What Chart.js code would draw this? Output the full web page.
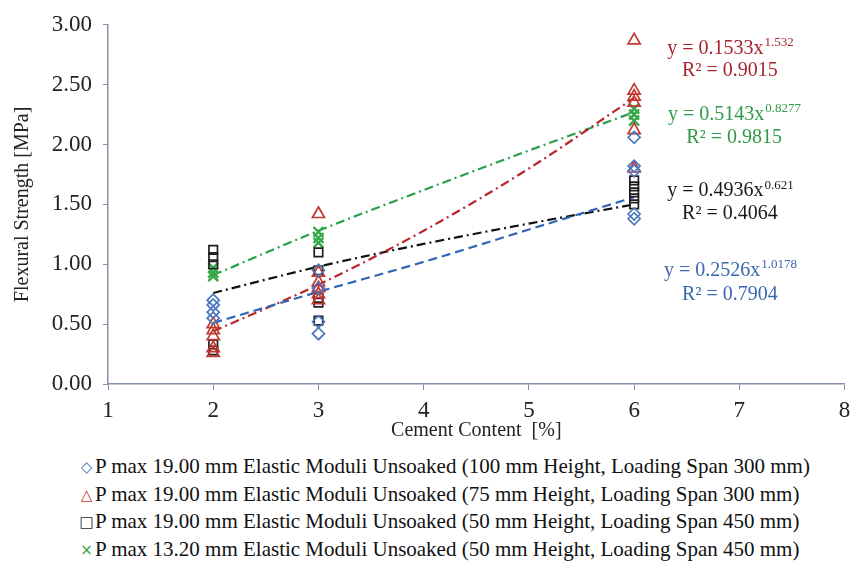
<!DOCTYPE html>
<html>
<head>
<meta charset="utf-8">
<script src="https://cdn.jsdelivr.net/npm/chart.js@4.4.1/dist/chart.umd.min.js"></script>
<style>
  body { margin: 0; background: #fff; font-family: "Liberation Serif", serif; }
  #wrap { position: relative; width: 854px; height: 445px; }
  #legend { margin: 8px 0 0 78px; font-size: 21px; color: #111; white-space: nowrap; }
  #legend div { height: 27.7px; line-height: 27.7px; }
  #legend .m { display: inline-block; width: 17px; text-align: center; font-family: "DejaVu Sans", sans-serif; font-size: 15px; line-height: 20px; vertical-align: 1px; }
</style>
</head>
<body>
<div id="wrap"><canvas id="chart" width="854" height="445"></canvas></div>
<div id="legend"></div>
<script>
// Series labels
const seriesLabels = [
  'P max 19.00 mm Elastic Moduli Unsoaked (100 mm Height, Loading Span 300 mm)',
  'P max 19.00 mm Elastic Moduli Unsoaked (75 mm Height, Loading Span 300 mm)',
  'P max 19.00 mm Elastic Moduli Unsoaked (50 mm Height, Loading Span 450 mm)',
  'P max 13.20 mm Elastic Moduli Unsoaked (50 mm Height, Loading Span 450 mm)'
];

// Measured points (cement content %, flexural strength MPa)
const h100X = [2, 2, 2, 2, 3, 3, 3, 3, 6, 6, 6, 6, 6];
const h100Y = [0.70, 0.66, 0.60, 0.55, 0.95, 0.80, 0.52, 0.42, 2.06, 1.82, 1.78, 1.42, 1.38];

const h75X = [2, 2, 2, 2, 2, 3, 3, 3, 3, 3, 3, 6, 6, 6, 6, 6, 6];
const h75Y = [0.50, 0.45, 0.40, 0.30, 0.26, 1.42, 0.93, 0.85, 0.80, 0.75, 0.70, 2.87, 2.45, 2.40, 2.35, 2.12, 1.80];

const h50X = [2, 2, 2, 2, 2, 3, 3, 3, 3, 3, 6, 6, 6, 6, 6];
const h50Y = [1.12, 1.06, 1.00, 0.33, 0.28, 1.10, 0.95, 0.72, 0.68, 0.53, 1.70, 1.65, 1.60, 1.55, 1.50];

const p13X = [2, 2, 2, 3, 3, 3, 6, 6, 6];
const p13Y = [0.97, 0.93, 0.90, 1.27, 1.22, 1.18, 2.30, 2.25, 2.20];

// Power trend lines
const trendX = [2, 3, 4, 5, 6];
const trendH100 = [0.51, 0.77, 1.02, 1.29, 1.56];
const trendH75 = [0.44, 0.83, 1.28, 1.80, 2.39];
const trendH50 = [0.76, 0.98, 1.17, 1.34, 1.50];
const trendP13 = [0.91, 1.28, 1.62, 1.95, 2.27];

// Trend equations (top to bottom on the chart: red, green, black, blue)
const eqCoef = ['0.1533', '0.5143', '0.4936', '0.2526'];
const eqExp = ['1.532', '0.8277', '0.621', '1.0178'];
const eqR2 = ['0.9015', '0.9815', '0.4064', '0.7904'];

const yTicks = [0, 0.5, 1, 1.5, 2, 2.5, 3];

const pts = (xs, ys) => xs.map((x, i) => ({ x: x, y: ys[i] }));

const markerColors = ['#4a78bf', '#c0392f', '#1e1e1e', '#35a846'];
const lineColors = ['#2f67b2', '#b8262c', '#111111', '#28a04a'];
const eqColors = ['#a8242c', '#2f9a45', '#1a1a1a', '#3a68ad'];
// label anchors in data units: x centre, y of equation line, y of R² line
const eqPos = [[6.91, 2.80, 2.62], [6.95, 2.25, 2.06], [6.91, 1.61, 1.42], [6.91, 0.95, 0.745]];

const eqPlugin = {
  id: 'equations',
  afterDatasetsDraw(chart) {
    const { ctx, scales: { x, y } } = chart;
    ctx.save();
    ctx.textBaseline = 'middle';
    eqCoef.forEach((coef, k) => {
      const cx = x.getPixelForValue(eqPos[k][0]);
      const y1 = y.getPixelForValue(eqPos[k][1]);
      const y2 = y.getPixelForValue(eqPos[k][2]);
      ctx.fillStyle = eqColors[k];
      const main = 'y = ' + coef + 'x';
      ctx.font = '20px "Liberation Serif"';
      const w1 = ctx.measureText(main).width;
      ctx.font = '13px "Liberation Serif"';
      const w2 = ctx.measureText(eqExp[k]).width;
      const left = cx - (w1 + w2) / 2;
      ctx.textAlign = 'left';
      ctx.font = '20px "Liberation Serif"';
      ctx.fillText(main, left, y1);
      ctx.font = '13px "Liberation Serif"';
      ctx.fillText(eqExp[k], left + w1 + 1, y1 - 6);
      ctx.font = '20px "Liberation Serif"';
      ctx.textAlign = 'center';
      ctx.fillText('R² = ' + eqR2[k], cx, y2);
    });
    ctx.restore();
  }
};

const pointStyles = ['rectRot', 'triangle', 'rect', 'crossRot'];
const pointRadii = [6, 7, 6, 7];
const pointData = [pts(h100X, h100Y), pts(h75X, h75Y), pts(h50X, h50Y), pts(p13X, p13Y)];
const trendData = [pts(trendX, trendH100), pts(trendX, trendH75), pts(trendX, trendH50), pts(trendX, trendP13)];
const dashes = [[9, 5], [9, 4, 2, 4], [9, 4, 2, 4], [9, 4, 2, 4]];

const datasets = [];
trendData.forEach((d, i) => {
  datasets.push({
    type: 'line',
    label: 'trend ' + i,
    data: d,
    borderColor: lineColors[i],
    borderWidth: 2.2,
    borderDash: dashes[i],
    pointRadius: 0,
    cubicInterpolationMode: 'monotone',
    fill: false,
    order: 2
  });
});
pointData.forEach((d, i) => {
  datasets.push({
    type: 'scatter',
    label: seriesLabels[i],
    data: d,
    pointStyle: pointStyles[i],
    pointRadius: pointRadii[i],
    borderColor: markerColors[i],
    backgroundColor: 'rgba(0,0,0,0)',
    borderWidth: i === 3 ? 2.4 : 1.7,
    order: 1
  });
});

const axisColor = '#8591a8';
const tickFont = { family: 'Liberation Serif', size: 23 };

new Chart(document.getElementById('chart'), {
  type: 'scatter',
  data: { datasets: datasets },
  options: {
    responsive: false,
    animation: false,
    layout: { padding: { top: 17, right: 9, left: 0, bottom: 0 } },
    plugins: { legend: { display: false }, tooltip: { enabled: false } },
    scales: {
      x: {
        type: 'linear',
        min: 1,
        max: 8,
        ticks: { stepSize: 1, color: '#222', font: tickFont, padding: 7 },
        grid: { drawOnChartArea: false, drawTicks: true, tickLength: 6, color: axisColor },
        border: { color: axisColor, width: 1.5 },
        title: { display: true, text: 'Cement Content  [%]', color: '#222', font: { family: 'Liberation Serif', size: 20 }, padding: { top: 0, bottom: 2 } },
        afterFit: (s) => { s.height = 61; s.paddingLeft = 0; s.paddingRight = 0; }
      },
      y: {
        min: 0,
        max: 3,
        afterBuildTicks: (s) => { s.ticks = yTicks.map(v => ({ value: v })); },
        ticks: { color: '#222', font: tickFont, padding: 11, callback: v => v.toFixed(2) },
        grid: { drawOnChartArea: false, drawTicks: true, tickLength: 5, color: axisColor },
        border: { color: axisColor, width: 1.5 },
        title: { display: true, text: 'Flexural Strength [MPa]', color: '#222', font: { family: 'Liberation Serif', size: 20 }, padding: { top: 11, bottom: 0 } },
        afterFit: (s) => { s.width = 108; }
      }
    }
  },
  plugins: [eqPlugin]
});

// Legend below the chart
const legendGlyphs = ['◇', '△', '□', '×'];
document.getElementById('legend').innerHTML = seriesLabels.map((t, i) =>
  '<div><span class="m" style="color:' + markerColors[i] + '">' + legendGlyphs[i] + '</span>' + t + '</div>'
).join('');
</script>
</body>
</html>
